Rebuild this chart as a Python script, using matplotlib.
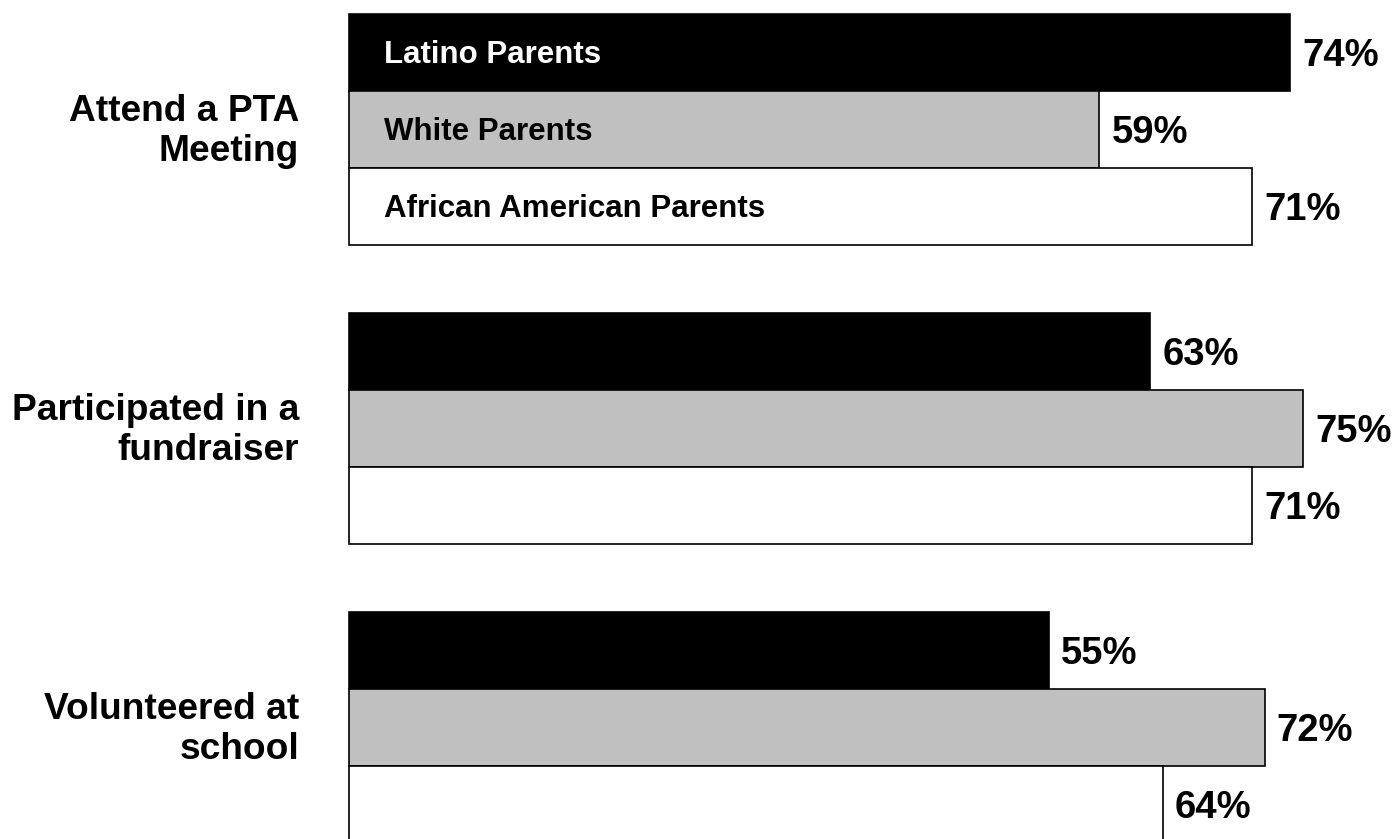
import matplotlib.pyplot as plt
import numpy as np

# Dados do gráfico
categorias = ['Attend a PTA\nMeeting', 'Participated in a\nfundraiser', 'Volunteered at\nschool']
grupos = ['Latino Parents', 'White Parents', 'African American Parents']
latino = [74, 63, 55]
branco = [59, 75, 72]
afro = [71, 71, 64]

cores = ['#000000', '#C0C0C0', '#FFFFFF']
cores_texto = ['white', 'black', 'black']
series = [latino, branco, afro]

plt.rcParams['font.family'] = ['Liberation Sans', 'DejaVu Sans']

fig = plt.figure(figsize=(13.95, 8.39), dpi=100)
ax = fig.add_axes([349 / 1395, 0, 1 - 349 / 1395, 1])

espaco = 3.883
centros = np.arange(len(categorias)) * espaco

for k, (valores, cor) in enumerate(zip(series, cores)):
    y = centros + (k - 1)
    ax.barh(y, valores, height=1.0, color=cor, edgecolor='black',
            linewidth=1.2, clip_on=False)
    for yi, v in zip(y, valores):
        ax.annotate(f'{v}%', (v, yi), xytext=(8.6, -2.5), textcoords='offset points',
                    ha='left', va='center', fontsize=27.5, fontweight='bold')

# nomes dos grupos dentro das barras do primeiro bloco
for k, nome in enumerate(grupos):
    ax.annotate(nome, (0, centros[0] + (k - 1)), xytext=(25.2, -1.5),
                textcoords='offset points', ha='left', va='center',
                fontsize=22.5, fontweight='bold', color=cores_texto[k])

# rótulos das categorias
for c, cat in zip(centros, categorias):
    ax.annotate(cat, (0, c), xytext=(-36, -1.5), textcoords='offset points',
                ha='right', va='center', fontsize=26.7, fontweight='bold',
                linespacing=1.17, annotation_clip=False)

ax.set_xlim(0, 1046 / 12.72)
ax.set_ylim((839 - 129.5) / 77, -129.5 / 77)
ax.axis('off')

fig.savefig('out.png', dpi=100)
